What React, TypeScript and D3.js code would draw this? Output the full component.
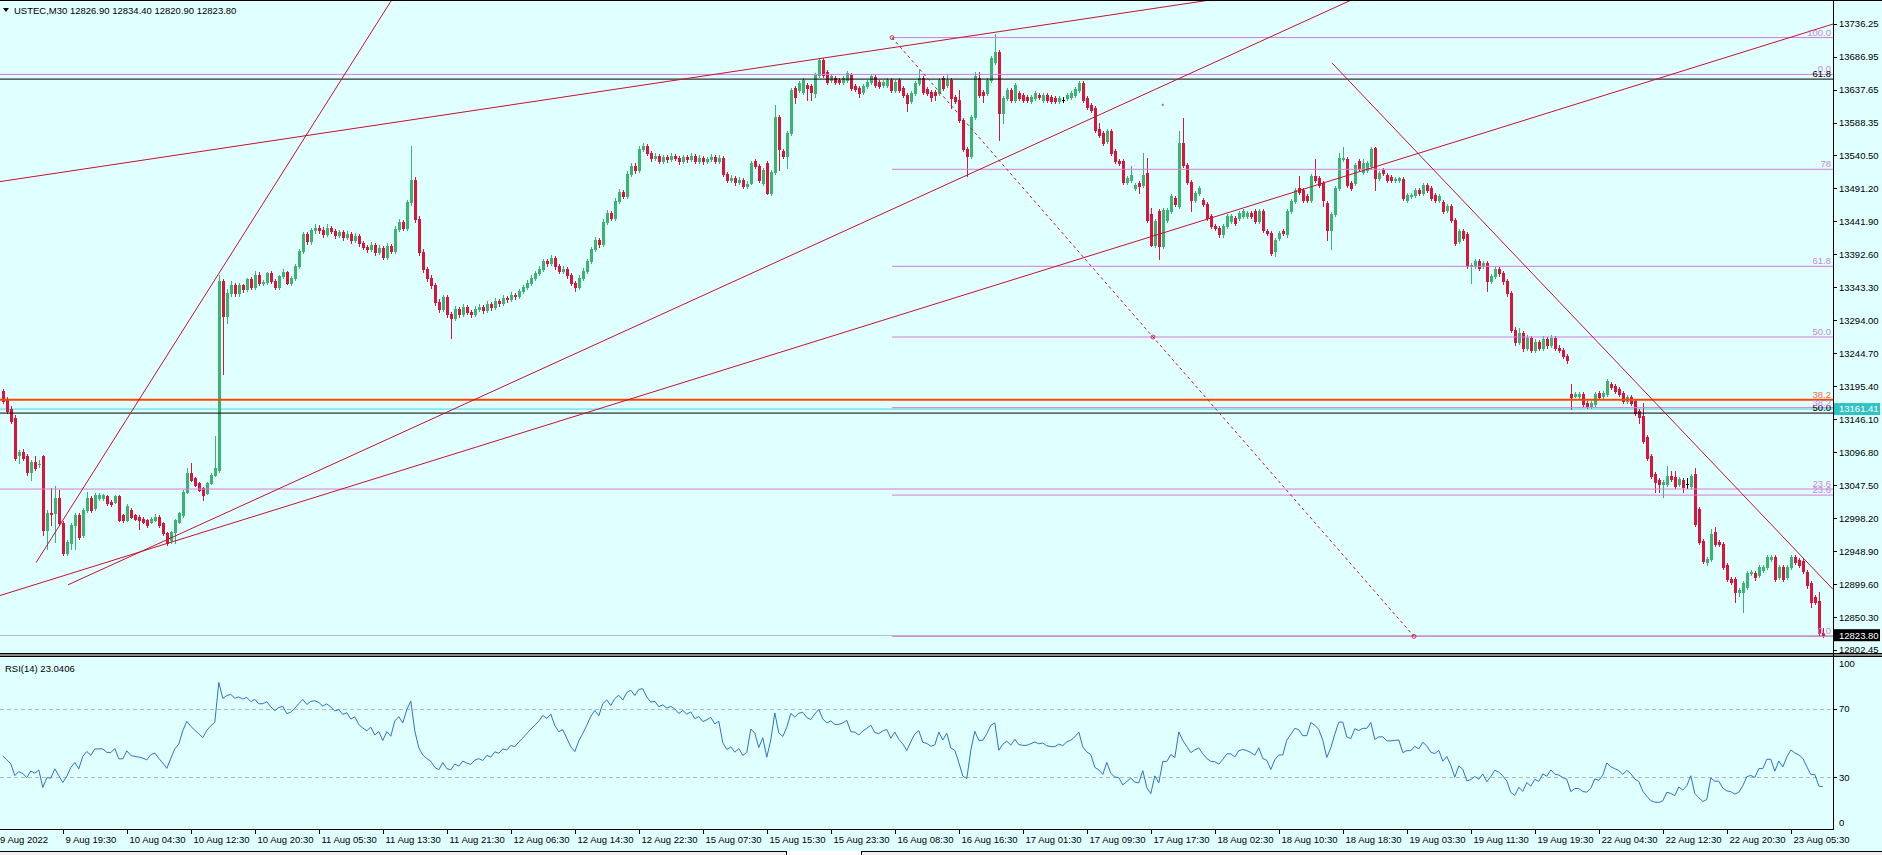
import React from "react";
import * as d3 from "d3";

type C = [number, number, number, number];

// [open, high, low, close] per M30 bar
const candles: C[] = [
[13188,13192,13170,13173],[13176,13180,13156,13158],[13161,13166,13140,13143],[13148,13152,13085,13088],[13093,13101,13081,13098],
[13097,13102,13086,13088],[13091,13094,13063,13068],[13068,13086,13056,13083],[13083,13091,13071,13073],[13079,13085,13075,13080],
[13091,13093,12973,12981],[12981,13010,12953,13006],[13006,13043,12988,13004],[13006,13046,12963,13028],[13028,13040,12989,12991],
[12991,12994,12943,12946],[12946,12966,12944,12963],[12961,12991,12953,12988],[12988,13006,12953,13003],[13003,13006,12968,12971],
[12973,13014,12970,13011],[13011,13038,13008,13028],[13028,13031,13008,13011],[13013,13036,13010,13033],[13028,13036,13026,13033],
[13028,13035,13026,13033],[13031,13033,13018,13021],[13023,13025,13017,13020],[13023,13033,13021,13031],[13031,13033,12994,12996],
[13003,13005,12993,12996],[12996,13020,12994,13016],[13011,13013,12999,13001],[13003,13005,12996,12998],[13001,13003,12983,12996],
[12998,13000,12991,12993],[12996,12998,12986,12988],[12993,13000,12991,12998],[12996,13004,12994,13001],[13001,13003,12986,12988],
[12991,12993,12974,12976],[12976,12978,12958,12961],[12966,12980,12961,12978],[12978,12998,12961,12996],[12993,13008,12991,13006],
[13003,13040,13001,13038],[13038,13073,13036,13066],[13066,13081,13054,13056],[13058,13060,13046,13048],[13051,13053,13039,13041],
[13043,13045,13026,13033],[13036,13053,13034,13051],[13051,13066,13049,13063],[13063,13121,13061,13073],[13071,13362,13068,13352],
[13352,13356,13214,13300],[13300,13340,13290,13334],[13334,13352,13330,13346],[13346,13350,13330,13334],[13334,13350,13330,13346],
[13346,13348,13336,13340],[13340,13357,13338,13355],[13355,13358,13340,13343],[13343,13368,13340,13362],[13362,13366,13346,13350],
[13350,13354,13346,13351],[13351,13366,13348,13364],[13364,13367,13350,13352],[13352,13355,13340,13343],[13343,13362,13340,13360],
[13360,13370,13357,13366],[13366,13368,13348,13350],[13350,13360,13346,13357],[13357,13378,13354,13375],[13375,13400,13372,13398],
[13398,13426,13395,13422],[13422,13425,13408,13412],[13412,13432,13408,13429],[13429,13438,13424,13432],[13432,13436,13424,13429],
[13429,13433,13419,13423],[13423,13437,13420,13432],[13432,13435,13424,13427],[13427,13430,13417,13421],[13421,13429,13418,13425],
[13425,13428,13414,13418],[13418,13427,13415,13423],[13423,13425,13410,13414],[13414,13424,13411,13420],[13420,13422,13405,13409],
[13409,13412,13400,13404],[13404,13407,13396,13400],[13400,13411,13397,13407],[13407,13409,13392,13396],[13396,13406,13393,13402],
[13402,13405,13385,13389],[13389,13409,13386,13405],[13405,13408,13394,13398],[13398,13434,13395,13430],[13430,13445,13427,13441],
[13441,13444,13428,13432],[13432,13474,13429,13470],[13470,13554,13466,13504],[13504,13508,13440,13445],[13445,13449,13392,13396],
[13396,13400,13366,13370],[13370,13374,13352,13357],[13357,13362,13342,13346],[13346,13349,13317,13321],[13321,13325,13307,13311],
[13311,13332,13308,13328],[13328,13331,13299,13303],[13303,13306,13268,13298],[13298,13315,13295,13311],[13311,13314,13299,13303],
[13303,13318,13300,13314],[13314,13317,13303,13307],[13307,13310,13299,13303],[13303,13315,13300,13311],[13311,13318,13308,13314],
[13314,13317,13305,13309],[13309,13322,13306,13318],[13318,13321,13310,13314],[13314,13327,13311,13323],[13323,13326,13316,13320],
[13320,13331,13317,13327],[13327,13330,13321,13325],[13325,13336,13322,13332],[13332,13335,13326,13330],[13330,13341,13327,13337],
[13337,13347,13334,13343],[13343,13354,13340,13350],[13350,13361,13347,13357],[13357,13368,13354,13364],[13364,13375,13361,13371],
[13371,13386,13368,13382],[13382,13385,13375,13379],[13379,13392,13376,13387],[13387,13390,13371,13375],[13375,13378,13364,13368],
[13368,13375,13365,13371],[13371,13374,13357,13361],[13361,13364,13346,13350],[13350,13353,13337,13343],[13343,13361,13340,13357],
[13357,13372,13354,13368],[13368,13386,13365,13382],[13382,13404,13379,13400],[13400,13418,13397,13414],[13414,13417,13404,13408],
[13408,13445,13405,13441],[13441,13458,13438,13454],[13454,13457,13443,13447],[13447,13476,13444,13472],[13472,13490,13469,13486],
[13486,13489,13476,13480],[13480,13517,13477,13513],[13513,13529,13510,13525],[13525,13528,13514,13518],[13518,13554,13515,13550],
[13550,13559,13546,13554],[13554,13557,13540,13543],[13543,13546,13532,13536],[13536,13543,13533,13539],[13539,13542,13528,13532],
[13532,13541,13529,13538],[13538,13541,13530,13534],[13534,13543,13531,13539],[13539,13542,13533,13536],[13536,13539,13527,13531],
[13531,13541,13528,13538],[13538,13541,13530,13534],[13534,13543,13531,13539],[13539,13542,13528,13532],[13532,13540,13529,13536],
[13536,13539,13527,13531],[13531,13538,13528,13534],[13534,13542,13531,13538],[13538,13541,13528,13532],[13532,13540,13529,13536],
[13536,13539,13509,13513],[13513,13516,13500,13504],[13504,13511,13501,13507],[13507,13510,13496,13500],[13500,13508,13497,13504],
[13504,13507,13491,13495],[13495,13502,13492,13498],[13499,13532,13497,13529],[13531,13534,13521,13524],[13524,13527,13501,13504],
[13499,13522,13496,13519],[13529,13532,13482,13484],[13484,13519,13481,13516],[13516,13616,13513,13598],[13598,13601,13519,13549],
[13546,13549,13536,13539],[13539,13576,13521,13573],[13573,13641,13570,13638],[13640,13643,13618,13628],[13638,13651,13635,13648],
[13635,13656,13632,13653],[13645,13648,13623,13640],[13643,13646,13623,13635],[13633,13663,13628,13660],[13660,13685,13657,13683],
[13683,13686,13657,13660],[13665,13668,13647,13650],[13653,13661,13650,13658],[13655,13658,13647,13650],[13653,13656,13647,13650],
[13650,13658,13647,13655],[13653,13666,13650,13663],[13660,13663,13637,13640],[13643,13646,13636,13639],[13640,13643,13627,13633],
[13635,13646,13632,13643],[13643,13653,13640,13650],[13650,13661,13647,13658],[13657,13660,13642,13645],[13649,13652,13640,13643],
[13645,13652,13642,13649],[13645,13655,13642,13652],[13652,13655,13635,13638],[13638,13653,13635,13650],[13652,13655,13635,13638],
[13640,13643,13627,13630],[13630,13633,13606,13618],[13621,13636,13618,13633],[13633,13651,13630,13648],[13648,13668,13645,13655],
[13655,13658,13632,13635],[13639,13642,13630,13633],[13635,13638,13621,13628],[13635,13638,13623,13630],[13633,13656,13630,13653],
[13655,13658,13637,13640],[13645,13660,13642,13653],[13653,13656,13611,13626],[13628,13631,13618,13621],[13623,13638,13590,13593],
[13593,13596,13546,13549],[13549,13552,13509,13539],[13539,13601,13536,13598],[13598,13665,13595,13658],[13655,13665,13627,13630],
[13635,13638,13620,13630],[13633,13656,13630,13653],[13653,13688,13650,13685],[13680,13722,13677,13695],[13695,13698,13563,13603],
[13603,13629,13588,13626],[13626,13641,13623,13638],[13638,13641,13620,13623],[13623,13648,13620,13645],[13633,13636,13623,13626],
[13630,13633,13620,13623],[13628,13631,13620,13623],[13621,13631,13618,13628],[13626,13636,13623,13633],[13630,13633,13625,13628],
[13623,13633,13620,13630],[13630,13633,13620,13623],[13628,13631,13618,13621],[13626,13629,13618,13621],[13621,13629,13618,13626],
[13623,13628,13620,13623],[13626,13633,13623,13630],[13628,13636,13625,13633],[13630,13642,13627,13639],[13638,13651,13635,13648],
[13648,13651,13620,13623],[13626,13629,13610,13613],[13616,13619,13605,13608],[13611,13614,13575,13578],[13580,13589,13568,13571],
[13573,13576,13555,13558],[13561,13579,13558,13576],[13576,13579,13541,13544],[13546,13549,13528,13531],[13531,13534,13526,13529],
[13531,13534,13498,13501],[13501,13509,13498,13506],[13504,13524,13501,13511],[13491,13499,13488,13496],[13499,13502,13484,13494],
[13496,13544,13493,13511],[13514,13536,13441,13444],[13452,13462,13405,13407],[13407,13445,13404,13442],[13457,13460,13385,13405],
[13405,13462,13402,13459],[13444,13462,13441,13459],[13457,13482,13454,13479],[13477,13480,13464,13467],[13464,13576,13461,13558],
[13558,13596,13523,13526],[13526,13529,13498,13501],[13501,13504,13457,13474],[13474,13487,13471,13484],[13484,13494,13481,13491],
[13474,13477,13464,13467],[13467,13470,13444,13447],[13449,13452,13431,13434],[13434,13437,13429,13432],[13432,13435,13419,13422],
[13422,13437,13419,13434],[13434,13452,13431,13449],[13442,13452,13439,13449],[13447,13450,13436,13439],[13447,13457,13444,13454],
[13449,13460,13446,13457],[13449,13457,13446,13454],[13454,13457,13446,13449],[13457,13460,13439,13442],[13442,13460,13439,13457],
[13457,13460,13426,13429],[13427,13430,13421,13424],[13424,13427,13392,13395],[13397,13417,13390,13414],[13417,13427,13414,13424],
[13427,13430,13421,13424],[13422,13460,13419,13457],[13457,13475,13454,13472],[13472,13492,13469,13489],[13491,13509,13483,13486],
[13489,13492,13471,13474],[13479,13482,13471,13474],[13474,13512,13471,13509],[13509,13534,13501,13504],[13506,13509,13493,13496],
[13499,13502,13464,13474],[13469,13472,13414,13429],[13429,13455,13400,13452],[13452,13494,13449,13491],[13491,13544,13488,13536],
[13534,13553,13531,13536],[13534,13537,13493,13496],[13499,13502,13488,13491],[13499,13529,13496,13526],[13531,13534,13518,13521],
[13516,13534,13513,13529],[13519,13532,13516,13529],[13524,13552,13521,13549],[13551,13553,13489,13506],[13506,13517,13503,13514],
[13519,13522,13511,13514],[13511,13514,13501,13504],[13508,13511,13501,13504],[13504,13508,13501,13505],[13504,13508,13501,13506],
[13505,13508,13474,13477],[13474,13484,13471,13481],[13479,13484,13476,13481],[13481,13492,13478,13489],[13489,13492,13481,13484],
[13484,13499,13481,13496],[13496,13499,13486,13489],[13491,13494,13474,13477],[13481,13484,13471,13474],[13474,13482,13471,13479],
[13471,13474,13454,13457],[13459,13467,13456,13464],[13464,13467,13441,13444],[13444,13447,13406,13409],[13412,13430,13409,13427],
[13427,13430,13414,13417],[13422,13425,13372,13375],[13375,13380,13350,13377],[13375,13385,13372,13382],[13382,13385,13369,13372],
[13375,13383,13372,13380],[13380,13383,13337,13352],[13352,13363,13349,13360],[13360,13373,13357,13370],[13370,13374,13360,13364],
[13364,13367,13348,13352],[13352,13356,13330,13334],[13334,13338,13276,13280],[13280,13284,13257,13262],[13262,13282,13258,13275],
[13275,13278,13248,13253],[13253,13272,13249,13268],[13268,13271,13246,13250],[13250,13266,13247,13262],[13262,13265,13249,13253],
[13253,13270,13250,13266],[13266,13269,13253,13257],[13257,13272,13254,13268],[13268,13271,13249,13253],[13253,13257,13246,13250],
[13250,13253,13237,13241],[13241,13244,13230,13235],[13184,13199,13161,13179],[13181,13187,13179,13184],[13181,13187,13178,13184],
[13184,13187,13166,13169],[13171,13174,13163,13166],[13166,13174,13163,13171],[13169,13187,13166,13184],[13186,13189,13176,13179],
[13181,13189,13178,13186],[13184,13206,13181,13204],[13199,13202,13191,13194],[13196,13199,13186,13189],[13191,13194,13181,13184],
[13186,13189,13171,13174],[13174,13182,13171,13179],[13179,13182,13168,13171],[13174,13177,13153,13156],[13159,13162,13141,13149],
[13151,13171,13111,13114],[13119,13122,13086,13089],[13092,13095,13059,13062],[13064,13067,13037,13052],[13055,13058,13037,13050],
[13050,13055,13030,13052],[13050,13077,13047,13062],[13062,13069,13054,13057],[13060,13069,13044,13047],[13050,13060,13047,13057],
[13055,13058,13037,13045],[13050,13058,13044,13050],[13047,13065,13044,13062],[13064,13074,12987,12990],[13012,13015,12960,12963],
[12965,12968,12932,12935],[12933,12941,12928,12938],[12938,12983,12935,12975],[12978,12985,12957,12960],[12963,12966,12957,12960],
[12960,12963,12922,12925],[12928,12931,12905,12908],[12908,12911,12900,12903],[12908,12911,12873,12888],[12888,12894,12883,12891],
[12888,12904,12858,12901],[12896,12919,12893,12916],[12916,12921,12913,12918],[12916,12919,12906,12911],[12913,12928,12910,12925],
[12921,12928,12918,12925],[12925,12943,12922,12940],[12938,12943,12935,12940],[12940,12943,12905,12908],[12911,12928,12908,12925],
[12925,12928,12905,12908],[12910,12929,12907,12926],[12926,12943,12923,12940],[12940,12943,12930,12933],[12936,12939,12925,12928],
[12935,12938,12917,12920],[12918,12921,12895,12898],[12901,12904,12866,12873],[12881,12884,12870,12873],[12875,12888,12824,12827],
[12826.9,12834.4,12820.9,12823.8],
];

const priceTicks = [13736.25, 13686.95, 13637.65, 13588.35, 13540.5, 13491.2, 13441.9, 13392.6, 13343.3, 13294.0,
  13244.7, 13195.4, 13146.1, 13096.8, 13047.5, 12998.2, 12948.9, 12899.6, 12850.3, 12802.45];

const timeTickBars = [15, 31, 47, 63, 79, 95, 111, 127, 143, 159, 175, 191, 207, 223, 239, 255, 271, 287, 303, 319, 335, 351, 367, 383, 399, 415, 431, 447];
const timeTickLabels = ["9 Aug 19:30", "10 Aug 04:30", "10 Aug 12:30", "10 Aug 20:30", "11 Aug 05:30", "11 Aug 13:30", "11 Aug 21:30",
  "12 Aug 06:30", "12 Aug 14:30", "12 Aug 22:30", "15 Aug 07:30", "15 Aug 15:30", "15 Aug 23:30", "16 Aug 08:30", "16 Aug 16:30",
  "17 Aug 01:30", "17 Aug 09:30", "17 Aug 17:30", "18 Aug 02:30", "18 Aug 10:30", "18 Aug 18:30", "19 Aug 03:30", "19 Aug 11:30",
  "19 Aug 19:30", "22 Aug 04:30", "22 Aug 12:30", "22 Aug 20:30", "23 Aug 05:30"];
const firstDateLabel = "9 Aug 2022";

// Fibonacci retracement drawn from the 16 Aug high to the low
const fibBars = [222.3, 352.8];
const fibPrices = [13716, 12822];
const fibLevels = [100, 78, 61.8, 50, 38.2, 23.6, 0];
const fibLevelLabels = ["100.0", "78", "61.8", "50.0", "38.2", "23.6", "0.0"];

// other full-width level lines
const levelPrices = [13661, 13042, 13654, 13155.4, 13175.2];
const levelLabels = ["0.0", "23.6", "61.8", "50.0", "38.2"];
const levelKinds = ["pink", "pink", "black", "black", "orange"];

const hLinePrice = 13161.41;
const bidPrice = 12823.8;

// trend lines: [bar1, price1, bar2, price2]
const trendLines: [number, number, number, number][] = [
  [8.3, 12932, 37.3, 13206],
  [-0.7, 13501, 186.8, 13669],
  [16.3, 12899, 227.6, 13474],
  [-0.7, 12883, 274.3, 13395],
  [332.3, 13678, 374.3, 13414.5],
];
const dotMark = [290, 13615.6];

const rsiLevels = [70, 30];
const rsiAxisLabels = [100, 70, 30, 0];
const rsiSeed = [9, 11];

const header = "USTEC,M30  12826.90 12834.40 12820.90 12823.80";
const rsiTitle = "RSI(14) 23.0406";

const W = 1882, H = 855;
const PANE_R = 1833;
const FONT = "'Liberation Sans', Arial, sans-serif";
const FS = 9.5;
const BG = "#E0FFFF";
const BULL = "#3CB371";
const BEAR = "#DC143C";
const TREND = "#C8102E";
const PINK = "#D87AD8";
const PINK_TXT = "#C58AD8";
const ORANGE = "#FF4500";

function computeRsi(cs: C[], period: number, g0: number, l0: number) {
  let ag = g0, al = l0;
  const out: number[] = [];
  for (let i = 0; i < cs.length; i++) {
    const ch = i === 0 ? cs[0][3] - cs[0][0] : cs[i][3] - cs[i - 1][3];
    ag = (ag * (period - 1) + Math.max(ch, 0)) / period;
    al = (al * (period - 1) + Math.max(-ch, 0)) / period;
    out.push(al === 0 ? 100 : 100 - 100 / (1 + ag / al));
  }
  return out;
}

export default function App() {
  const n = candles.length;
  const x = d3.scaleLinear().domain([0, n - 1]).range([2.8, 2.8 + 4 * (n - 1)]);
  const y = d3.scaleLinear().domain([12802.45, 13736.25]).range([649.5, 24]);
  const yR = d3.scaleLinear().domain([0, 100]).range([829, 657]);
  const rsi = computeRsi(candles, 14, rsiSeed[0], rsiSeed[1]);
  const rsiLine = d3.line<number>().x((_, i) => x(i)).y((d) => yR(d))(rsi) || "";

  const fibY = (lv: number) => y(fibPrices[1] + (fibPrices[0] - fibPrices[1]) * lv / 100);
  const fx0 = x(fibBars[0]);

  const kindColor = (k: string) => (k === "pink" ? PINK : k === "black" ? "#000" : ORANGE);
  const kindText = (k: string) => (k === "pink" ? PINK_TXT : k === "black" ? "#000" : "#FF6A33");

  return (
    <svg width={W} height={H} style={{ position: "absolute", left: 0, top: 0, display: "block" }}
      fontFamily={FONT} fontSize={FS}>
      <defs>
        <clipPath id="mainClip"><rect x={0} y={1} width={PANE_R} height={651} /></clipPath>
        <clipPath id="rsiClip"><rect x={0} y={657} width={PANE_R} height={172} /></clipPath>
      </defs>
      <rect x={0} y={0} width={W} height={H} fill={BG} />

      {/* header */}
      <path d="M3,8 L9,8 L6,12 Z" fill="#000" />
      <text x={14} y={13.5} fill="#000">{header}</text>

      <g clipPath="url(#mainClip)">
        <line x1={0} x2={PANE_R} y1={y(hLinePrice)} y2={y(hLinePrice)} stroke="#40D8D8" strokeWidth={1} />
        <line x1={0} x2={PANE_R} y1={Math.round(y(bidPrice)) + 0.5} y2={Math.round(y(bidPrice)) + 0.5} stroke="#B4C0C0" strokeWidth={1} />

        <g shapeRendering="crispEdges">
          {candles.map((c, i) => {
            const [o, h, l, cl] = c;
            const xc = Math.round(x(i));
            const col = cl > o ? BULL : cl < o ? BEAR : "#000";
            const top = Math.round(y(Math.max(o, cl)));
            const bot = Math.round(y(Math.min(o, cl)));
            return (
              <g key={i}>
                <rect x={xc} y={Math.round(y(h))} width={1} height={Math.max(1, Math.round(y(l)) - Math.round(y(h)) + 1)} fill={col} />
                <rect x={xc - 1} y={top} width={3} height={cl !== o ? Math.max(1, bot - top + 1) : 1} fill={col} />
              </g>
            );
          })}
        </g>

        {levelPrices.map((p, i) => (
          <line key={"lv" + i} x1={0} x2={PANE_R} y1={y(p)} y2={y(p)} stroke={kindColor(levelKinds[i])}
            strokeWidth={levelKinds[i] === "orange" ? 2 : 1} />
        ))}

        {fibLevels.map((lv, i) => (
          <line key={"fb" + i} x1={fx0} x2={PANE_R} y1={fibY(lv)} y2={fibY(lv)} stroke={PINK} strokeWidth={1} />
        ))}
        <line x1={x(fibBars[0])} y1={y(fibPrices[0])} x2={x(fibBars[1])} y2={y(fibPrices[1])} stroke={TREND} strokeWidth={1} strokeDasharray="3,3" />
        {[0, 0.5, 1].map((t, i) => (
          <circle key={"fm" + i} cx={x(fibBars[0]) + t * (x(fibBars[1]) - x(fibBars[0]))}
            cy={y(fibPrices[0]) + t * (y(fibPrices[1]) - y(fibPrices[0]))} r={2} fill="none" stroke={TREND} strokeWidth={0.8} />
        ))}

        {trendLines.map((t, i) => {
          const x1 = x(t[0]), y1 = y(t[1]), x2 = x(t[2]), y2 = y(t[3]);
          const s = (y2 - y1) / (x2 - x1);
          const xe = PANE_R;
          return <line key={"tl" + i} x1={x1} y1={y1} x2={xe} y2={y1 + s * (xe - x1)} stroke={TREND} strokeWidth={1} />;
        })}
        <rect x={x(dotMark[0]) - 1} y={y(dotMark[1]) - 1} width={2} height={2} fill="#A070C0" />

        {levelPrices.map((p, i) => (
          <text key={"ll" + i} x={PANE_R - 2} y={y(p) - 2} textAnchor="end" fill={kindText(levelKinds[i])}>{levelLabels[i]}</text>
        ))}
        {fibLevels.map((lv, i) => (
          <text key={"fl" + i} x={PANE_R - 2} y={fibY(lv) - 2} textAnchor="end" fill={PINK_TXT}>{fibLevelLabels[i]}</text>
        ))}
      </g>

      {priceTicks.map((p, i) => (
        <g key={"pt" + i}>
          <line x1={PANE_R} x2={PANE_R + 4} y1={Math.round(y(p)) + 0.5} y2={Math.round(y(p)) + 0.5} stroke="#000" />
          <text x={PANE_R + 6} y={y(p) + 3.4} fill="#000">{p.toFixed(2)}</text>
        </g>
      ))}
      <rect x={PANE_R + 1} y={y(hLinePrice) - 6} width={W - PANE_R - 3} height={12} fill="#2EC4C4" />
      <text x={PANE_R + 6} y={y(hLinePrice) + 3.4} fill="#fff">{hLinePrice.toFixed(2)}</text>
      <rect x={PANE_R + 1} y={y(bidPrice) - 6} width={W - PANE_R - 3} height={12} fill="#000" />
      <text x={PANE_R + 6} y={y(bidPrice) + 3.4} fill="#fff">{bidPrice.toFixed(2)}</text>

      <rect x={0} y={653} width={W} height={4} fill="#8A8A8A" />
      <line x1={0} x2={W} y1={653.5} y2={653.5} stroke="#000" />
      <line x1={0} x2={W} y1={656.5} y2={656.5} stroke="#000" />

      <text x={5} y={672} fill="#000">{rsiTitle}</text>
      {rsiLevels.map((lv) => (
        <line key={"rl" + lv} x1={0} x2={PANE_R} y1={Math.round(yR(lv)) + 0.5} y2={Math.round(yR(lv)) + 0.5}
          stroke="#A9BDBD" strokeDasharray="4,3" />
      ))}
      <g clipPath="url(#rsiClip)">
        <path d={rsiLine} fill="none" stroke="#2F72C8" strokeWidth={1} />
      </g>
      {rsiAxisLabels.map((v) => {
        const yy = v === 100 ? yR(v) + 10 : v === 0 ? yR(v) - 3 : yR(v) + 3.4;
        return (
          <g key={"ra" + v}>
            {v !== 100 && v !== 0 && (
              <line x1={PANE_R} x2={PANE_R + 4} y1={Math.round(yR(v)) + 0.5} y2={Math.round(yR(v)) + 0.5} stroke="#000" />
            )}
            <text x={PANE_R + 6} y={yy} fill="#000">{v}</text>
          </g>
        );
      })}

      <line x1={0} x2={W} y1={0.5} y2={0.5} stroke="#000" />
      <line x1={PANE_R + 0.5} x2={PANE_R + 0.5} y1={0} y2={829} stroke="#000" />
      <line x1={0} x2={PANE_R + 1} y1={829.5} y2={829.5} stroke="#000" />

      <text x={0} y={842.5} fill="#000">{firstDateLabel}</text>
      {timeTickBars.map((b, i) => {
        const xt = Math.round(x(b)) + 0.5;
        return (
          <g key={"tt" + i}>
            <line x1={xt} x2={xt} y1={829} y2={834} stroke="#000" />
            <text x={xt + 2} y={842.5} fill="#000">{timeTickLabels[i]}</text>
          </g>
        );
      })}

      <rect x={0} y={851} width={W} height={4} fill="#F0F0F0" />
      <line x1={0} x2={W} y1={851.5} y2={851.5} stroke="#000" />
      <rect x={786} y={851} width={76} height={4} fill="#FFFFFF" />
      <line x1={786.5} x2={786.5} y1={851} y2={855} stroke="#000" />
      <line x1={861.5} x2={861.5} y1={851} y2={855} stroke="#000" />
    </svg>
  );
}
